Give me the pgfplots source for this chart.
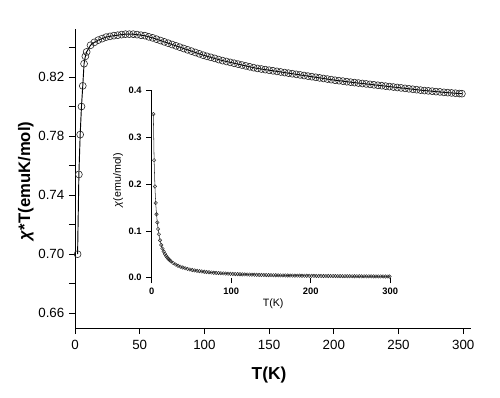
\documentclass[border=0pt]{standalone}
\usepackage{pgfplots}
\usepackage{pgfplotstable}
\pgfplotsset{compat=1.18}
\usepackage{fontspec}
\setmainfont{Liberation Sans}

\pgfplotstableread{
T chiT
2.0 0.700
3.0 0.754
4.0 0.781
5.0 0.800
6.0 0.814
7.0 0.829
8.0 0.834
9.0 0.837
12 0.8415
15 0.8435
18 0.845
21 0.846
24 0.847
27 0.8475
30 0.848
33 0.8483
36 0.8487
39 0.849
42 0.849
45 0.849
48 0.8487
51 0.8483
54 0.848
57 0.8472
60 0.8465
63 0.8456
66 0.8447
69 0.8438
72 0.8429
75 0.842
78 0.8411
81 0.8402
84 0.8393
87 0.8384
90 0.8375
93 0.8366
96 0.8357
99 0.8348
102 0.834
105 0.8333
108 0.8326
111 0.8318
114 0.8311
117 0.8305
120 0.8299
123 0.8293
126 0.8287
129 0.8281
132 0.8275
135 0.8269
138 0.8263
141 0.8258
144 0.8254
147 0.8250
150 0.8246
153 0.8242
156 0.8238
159 0.8234
162 0.8230
165 0.8226
168 0.8222
171 0.8218
174 0.8214
177 0.8210
180 0.8206
183 0.8202
186 0.8198
189 0.8194
192 0.8190
195 0.8186
198 0.8182
201 0.8178
204 0.8175
207 0.8172
210 0.8168
213 0.8165
216 0.8162
219 0.8159
222 0.8156
225 0.8153
228 0.8150
231 0.8147
234 0.8144
237 0.8141
240 0.8138
243 0.8135
246 0.8132
249 0.8129
252 0.8126
255 0.8123
258 0.8120
261 0.8117
264 0.8114
267 0.8111
270 0.8108
273 0.8106
276 0.8104
279 0.8101
282 0.8099
285 0.8096
288 0.8094
291 0.8092
294 0.8090
297 0.8088
299 0.8087
}\chitdata

\pgfplotstableread{
T chi
2.0 0.350
3.0 0.2513
4.0 0.1953
5.0 0.1600
6.0 0.1357
7.0 0.1184
8.0 0.1043
9.0 0.0930
10.5 0.0800
12 0.0701
13.5 0.0624
15 0.0562
16.5 0.0511
18 0.0469
19.5 0.0434
21 0.0403
22.5 0.0376
24 0.0353
27 0.0314
30 0.0283
33 0.0257
36 0.0236
39 0.0218
42 0.0202
45 0.0189
48 0.0177
51 0.0166
54 0.0157
57 0.0149
60 0.0141
63 0.0134
66 0.0128
69 0.0122
72 0.0117
75 0.0112
78 0.0108
81 0.0104
84 0.0100
87 0.0096
90 0.0093
93 0.0090
96 0.0087
99 0.0084
102 0.0082
105 0.0079
108 0.0077
111 0.0075
114 0.0073
117 0.0071
120 0.0069
123 0.00674
126 0.00658
129 0.00642
132 0.00627
135 0.00612
138 0.00599
141 0.00586
144 0.00573
147 0.00561
150 0.00550
153 0.00539
156 0.00528
159 0.00518
162 0.00508
165 0.00499
168 0.00489
171 0.00481
174 0.00472
177 0.00464
180 0.00456
183 0.00448
186 0.00441
189 0.00434
192 0.00427
195 0.00420
198 0.00413
201 0.00407
204 0.00401
207 0.00395
210 0.00389
213 0.00383
216 0.00378
219 0.00372
222 0.00367
225 0.00362
228 0.00357
231 0.00353
234 0.00348
237 0.00344
240 0.00339
243 0.00335
246 0.00331
249 0.00326
252 0.00322
255 0.00319
258 0.00315
261 0.00311
264 0.00307
267 0.00304
270 0.00300
273 0.00297
276 0.00294
279 0.00290
282 0.00287
285 0.00284
288 0.00281
291 0.00278
294 0.00275
297 0.00272
299 0.00270
}\chidata

\begin{document}
\begin{tikzpicture}
\useasboundingbox (0,0) rectangle (375pt,-297.75pt);
% main axis
\begin{axis}[
  at={(56.25pt,-246pt)}, anchor=south west,
  scale only axis, width=297pt, height=224.25pt,
  xmin=0, xmax=306, ymin=0.650, ymax=0.8525,
  axis lines*=left, axis line style={-, line width=0.7pt},
  tick align=outside, major tick length=4.5pt,
  tick style={black, line width=0.7pt},
  xtick={0,50,100,150,200,250,300},
  ytick={0.66,0.68,0.70,0.72,0.74,0.76,0.78,0.80,0.82,0.84},
  yticklabels={0.66,,0.70,,0.74,,0.78,,0.82,},
  /pgf/number format/assume math mode=true,
  ticklabel style={font=\fontsize{10}{12}\selectfont},
  xticklabel style={yshift=-1pt},
  xlabel={T(K)},
  xlabel style={font=\fontsize{13}{15}\selectfont\bfseries, at={(axis description cs:0.49,-0.157)}, anchor=center},
  ylabel={\textit{χ}*T(emuK/mol)},
  ylabel style={font=\fontsize{12.5}{15}\selectfont\bfseries, at={(axis description cs:-0.124,0.492)}, anchor=center},
  clip=false,
]
\addplot[black, line width=0.7pt, mark=o, mark size=2.6pt,
  mark options={black!85, line width=0.45pt}]
  table[x=T, y=chiT] {\chitdata};
\end{axis}
% inset
\begin{axis}[
  at={(113.8pt,-208.3pt)}, anchor=south west,
  scale only axis, width=178.9pt, height=140.25pt,
  xmin=0, xmax=300, ymin=0, ymax=0.4,
  axis lines*=left, axis line style={-, line width=0.6pt},
  x axis line style={draw=none},
  tick align=outside, major tick length=4pt,
  tick style={black, line width=0.6pt},
  xtick={0,100,200,300},
  ytick={0,0.1,0.2,0.3,0.4},
  yticklabel style={/pgf/number format/.cd, fixed, fixed zerofill, precision=1},
  /pgf/number format/assume math mode=true,
  ticklabel style={font=\fontsize{7}{8}\selectfont\bfseries},
  xlabel={T(K)},
  xlabel style={font=\fontsize{8}{9}\selectfont, at={(axis description cs:0.509,-0.141)}, anchor=center},
  ylabel={\textit{χ}(emu/mol)},
  ylabel style={font=\fontsize{8}{9}\selectfont, at={(axis description cs:-0.141,0.522)}, anchor=center},
  clip=false,
]
\addplot[black!80, line width=0.4pt, mark=o, mark size=1.3pt,
  mark options={black!85, line width=0.35pt}]
  table[x=T, y=chi] {\chidata};
\end{axis}
\end{tikzpicture}
\end{document}
